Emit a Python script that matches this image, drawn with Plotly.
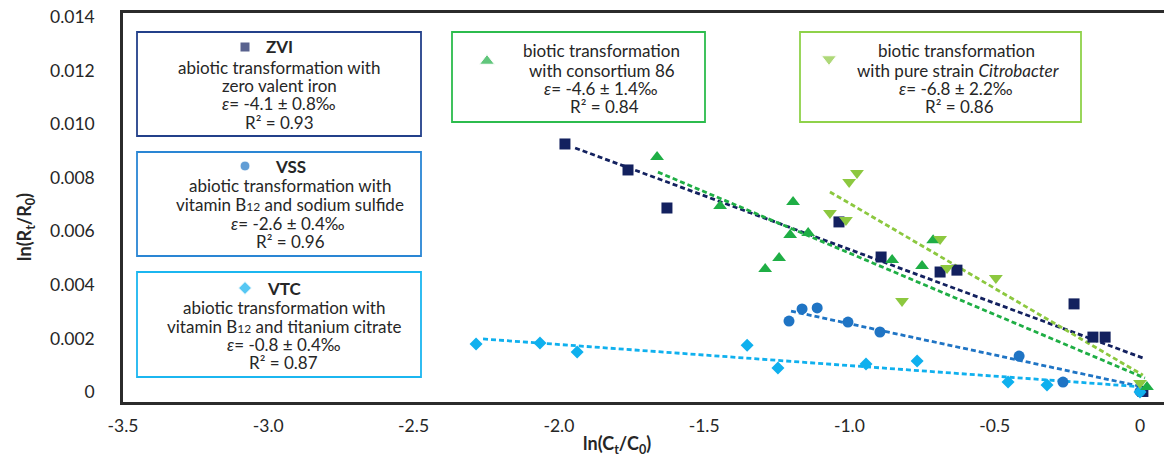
import plotly.graph_objects as go

# ---------------- data ----------------
zvi_x = [-1.979, -1.762, -1.628, -1.036, -0.891, -0.688, -0.630, -0.227, -0.162, -0.120, 0.010]
zvi_y = [0.00926, 0.00829, 0.00687, 0.00635, 0.00504, 0.00448, 0.00455, 0.00329, 0.00205, 0.00205, 0.00002]

vss_x = [-1.208, -1.163, -1.111, -1.005, -0.895, -0.416, -0.265, 0.0]
vss_y = [0.00265, 0.00310, 0.00314, 0.00261, 0.00224, 0.00134, 0.00037, 0.00002]

vtc_x = [-2.285, -2.065, -1.937, -1.352, -1.246, -0.943, -0.767, -0.454, -0.320, 0.0]
vtc_y = [0.00179, 0.00183, 0.00149, 0.00175, 0.00090, 0.00105, 0.00116, 0.00037, 0.00026, 0.00000]

c86_x = [-1.662, -1.445, -1.194, -1.204, -1.142, -1.242, -1.290, -0.853, -0.750, -0.712, 0.024]
c86_y = [0.00877, 0.00694, 0.00709, 0.00586, 0.00594, 0.00500, 0.00459, 0.00493, 0.00470, 0.00567, 0.00019]

cit_x = [-0.974, -1.001, -1.067, -1.012, -0.688, -0.664, -0.819, -0.496, 0.0]
cit_y = [0.00818, 0.00784, 0.00668, 0.00642, 0.00571, 0.00463, 0.00340, 0.00426, 0.00034]

# trend lines (end points)
zvi_fit_x = [-1.944, 0.010]
zvi_fit_y = [0.00911, 0.00127]
vss_fit_x = [-1.201, 0.010]
vss_fit_y = [0.00302, 0.00019]
vtc_fit_x = [-2.261, 0.010]
vtc_fit_y = [0.00198, 0.00019]
c86_fit_x = [-1.659, 0.017]
c86_fit_y = [0.00821, 0.00052]
cit_fit_x = [-1.067, 0.010]
cit_fit_y = [0.00747, 0.00063]

x_tickvals = [-3.5, -3.0, -2.5, -2.0, -1.5, -1.0, -0.5, 0.0]
x_ticktext = ["-3.5", "-3.0", "-2.5", "-2.0", "-1.5", "-1.0", "-0.5", "0"]
y_tickvals = [0, 0.002, 0.004, 0.006, 0.008, 0.010, 0.012, 0.014]
y_ticktext = ["0", "0.002", "0.004", "0.006", "0.008", "0.010", "0.012", "0.014"]

box_zvi = ["<b>ZVI</b>", "abiotic transformation with", "zero valent iron",
           "<i>ε</i>= -4.1 ± 0.8‰", "R² = 0.93"]
box_vss = ["<b>VSS</b>", "abiotic transformation with",
           "vitamin B<span style='font-size:12px'>12</span> and sodium sulfide",
           "<i>ε</i>= -2.6 ± 0.4‰", "R² = 0.96"]
box_vtc = ["<b>VTC</b>", "abiotic transformation with",
           "vitamin B<span style='font-size:12px'>12</span> and titanium citrate",
           "<i>ε</i>= -0.8 ± 0.4‰", "R² = 0.87"]
box_c86 = ["biotic transformation", "with consortium 86",
           "<i>ε</i>= -4.6 ± 1.4‰", "R² = 0.84"]
box_cit = ["biotic transformation", "with pure strain <i>Citrobacter</i>",
           "<i>ε</i>= -6.8 ± 2.2‰", "R² = 0.86"]

# ---------------- styling ----------------
W, H = 1164, 457
ML, MR, MT, MB = 123, 0, 13, 55
PW, PH = W - ML - MR, H - MT - MB
FONT = "Lato"
TXT = "#262626"

C_ZVI = "#13215f"
C_VSS = "#1f74c4"
C_VTC = "#0fb0ee"
C_C86 = "#1fae45"
C_CIT = "#8cc83f"


def px(x):
    return (x - ML) / PW


def py(y):
    return (H - MB - y) / PH


fig = go.Figure()

series = [
    (zvi_x, zvi_y, zvi_fit_x, zvi_fit_y, C_ZVI, "square", 11, "ZVI"),
    (vss_x, vss_y, vss_fit_x, vss_fit_y, C_VSS, "circle", 11, "VSS"),
    (vtc_x, vtc_y, vtc_fit_x, vtc_fit_y, C_VTC, "diamond", 10, "VTC"),
    (c86_x, c86_y, c86_fit_x, c86_fit_y, C_C86, "triangle-up", 12, "consortium 86"),
    (cit_x, cit_y, cit_fit_x, cit_fit_y, C_CIT, "triangle-down", 12, "Citrobacter"),
]

for sx, sy, fx, fy, col, sym, sz, name in series:
    fig.add_trace(go.Scatter(x=fx, y=fy, mode="lines", showlegend=False,
                             line=dict(color=col, width=2.8, dash="5px,3px"),
                             hoverinfo="skip", cliponaxis=False))
for sx, sy, fx, fy, col, sym, sz, name in series:
    fig.add_trace(go.Scatter(x=sx, y=sy, mode="markers", name=name, showlegend=False,
                             marker=dict(symbol=sym, size=sz, color=col, line=dict(width=0)),
                             cliponaxis=False))

# legend keys inside the boxes (on an overlay axis in paper units)
key_pos = [
    (245, 47, C_ZVI, "square", 10),
    (245, 166, C_VSS, "circle", 10),
    (245, 288, C_VTC, "diamond", 10),
    (487, 61, C_C86, "triangle-up", 13),
    (829, 59, C_CIT, "triangle-down", 13),
]
fig.add_trace(go.Scatter(
    x=[px(k[0]) for k in key_pos], y=[py(k[1]) for k in key_pos],
    mode="markers", xaxis="x2", yaxis="y2", showlegend=False, hoverinfo="skip",
    marker=dict(symbol=[k[3] for k in key_pos], size=[k[4] for k in key_pos],
                color=[k[2] for k in key_pos]), cliponaxis=False))

shapes = []
annotations = []

boxes = [
    # x0, x1, y0, y1, colour
    (137, 421, 32, 136, "#23408a"),
    (137, 421, 152, 256, "#2a86d4"),
    (137, 421, 272, 377, "#1bb6f0"),
    (452, 705, 32, 122, "#2cbc4d"),
    (800, 1081, 32, 122, "#8fd24a"),
]
for x0, x1, y0, y1, col in boxes:
    shapes.append(dict(type="rect", xref="paper", yref="paper",
                       x0=px(x0), x1=px(x1), y0=py(y1), y1=py(y0),
                       line=dict(color=col, width=1.8), fillcolor="white", layer="below"))

text_blocks = [
    (box_zvi, [279, 279, 279, 279, 279], [47, 67, 85, 104, 122]),
    (box_vss, [290, 290, 290, 288, 290], [166, 185, 204, 223, 241]),
    (box_vtc, [284, 284, 284, 284, 283], [288, 307, 326, 344, 362]),
    (box_c86, [601, 602, 601, 604], [51, 70, 88, 106]),
    (box_cit, [956, 958, 956, 959], [51, 70, 88, 106]),
]
for lines, xs, ys in text_blocks:
    for t, xx, yy in zip(lines, xs, ys):
        annotations.append(dict(text=t, x=px(xx), y=py(yy), xref="paper", yref="paper",
                                xanchor="center", yanchor="middle", showarrow=False,
                                font=dict(family=FONT, size=17, color=TXT)))

annotations.append(dict(text="<b>ln(R<sub>t</sub>/R<sub>0</sub>)</b>", x=px(25), y=py(227),
                        xref="paper", yref="paper", textangle=-90, showarrow=False,
                        xanchor="center", yanchor="middle",
                        font=dict(family=FONT, size=18, color=TXT)))
annotations.append(dict(text="<b>ln(C<sub>t</sub>/C<sub>0</sub>)</b>", x=px(617), y=py(444),
                        xref="paper", yref="paper", showarrow=False,
                        xanchor="center", yanchor="middle",
                        font=dict(family=FONT, size=18, color=TXT)))

fig.update_layout(
    width=W, height=H,
    margin=dict(l=ML, r=MR, t=MT, b=MB, pad=0),
    paper_bgcolor="white", plot_bgcolor="white",
    font=dict(family=FONT, color=TXT),
    xaxis=dict(range=[-3.5, 0.0826], tickvals=x_tickvals, ticktext=x_ticktext,
               showgrid=False, zeroline=False, showline=True, mirror=True,
               linecolor="#2b2b2b", linewidth=2.5, ticks="",
               ticklabelstandoff=6, tickfont=dict(family=FONT, size=17.5, color=TXT)),
    yaxis=dict(range=[-0.000373, 0.01415], tickvals=y_tickvals, ticktext=y_ticktext,
               showgrid=False, zeroline=False, showline=True, mirror=False,
               linecolor="#2b2b2b", linewidth=2.5, ticks="",
               ticklabelstandoff=22, tickfont=dict(family=FONT, size=17.5, color=TXT)),
    xaxis2=dict(range=[0, 1], overlaying="x", visible=False, domain=[0, 1]),
    yaxis2=dict(range=[0, 1], overlaying="y", visible=False, domain=[0, 1]),
    shapes=shapes,
    annotations=annotations,
)

fig.write_html(
    "out.html",
    config={"displayModeBar": False},
    post_script="document.body.style.margin='0';document.body.style.overflow='hidden';",
)
